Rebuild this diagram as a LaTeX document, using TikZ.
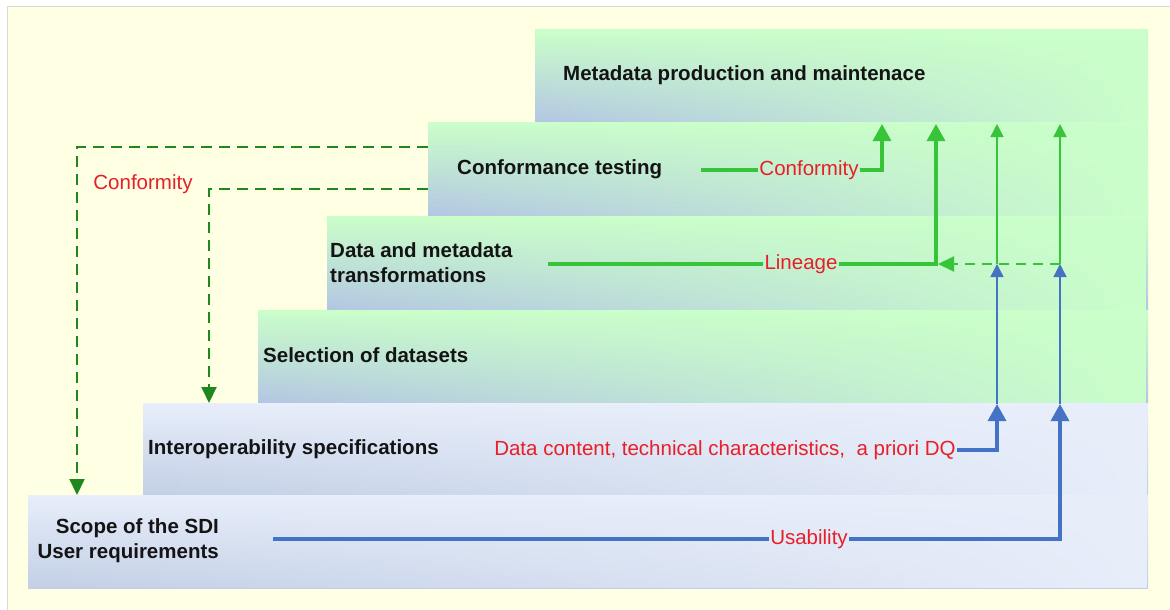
\documentclass[tikz,border=0pt]{standalone}
\usepackage{fontspec}
\setmainfont{Liberation Sans}
\usetikzlibrary{arrows.meta,fadings}
\definecolor{bgY}{RGB}{255,255,228}
\definecolor{gTop}{RGB}{202,255,202}
\definecolor{gBot}{RGB}{180,198,228}
\definecolor{bTop}{RGB}{232,238,250}
\definecolor{bBot}{RGB}{194,207,230}
\definecolor{lineG}{RGB}{56,196,56}
\definecolor{dashG}{RGB}{30,135,30}
\definecolor{lineB}{RGB}{68,114,196}
\definecolor{txtR}{RGB}{232,30,40}
\newcommand\mystepbox[6]{%
  \shade[top color=#5, bottom color=#6] (#1,#2) rectangle (#3,#4);
  \fill[#5, path fading=west, fit fading=true] (#1,#2) rectangle (#3,#4);}
\tikzset{
  tb/.style={font=\bfseries\fontsize{20.5}{25}\selectfont, text=black!92, inner sep=0pt, anchor=west},
  lbl/.style={font=\fontsize{20.5}{25}\selectfont, text=txtR, inner sep=1pt},
  gthick/.style={draw=lineG, line width=3.2pt},
  gthin/.style={draw=lineG, line width=1.4pt},
  bthick/.style={draw=lineB, line width=3.2pt},
  bthin/.style={draw=lineB, line width=1.4pt},
  gdash/.style={draw=lineG, line width=2pt, dash pattern=on 10pt off 7pt},
  ddash/.style={draw=dashG, line width=2pt, dash pattern=on 11pt off 7pt},
  bigtip/.style={-{Triangle[width=18pt,length=17pt]}},
  smalltip/.style={-{Triangle[width=13pt,length=13pt]}},
  dtip/.style={-{Triangle[width=15pt,length=16pt]}}
}
\begin{document}
\begin{tikzpicture}[x=1pt,y=-1pt]
\useasboundingbox (0,0) rectangle (1170,610);
\fill[white] (0,0) rectangle (1170,610);
\filldraw[fill=bgY, draw=black!15, line width=0.8pt] (7,6) rectangle (1175,615);

% steps
\mystepbox{535}{30}{1148}{122}{gTop}{gBot}
\mystepbox{428}{122}{1148}{216}{gTop}{gBot}
\mystepbox{327}{216}{1148}{310}{gTop}{gBot}
\mystepbox{258}{310}{1148}{403}{gTop}{gBot}
\mystepbox{143}{403}{1148}{495}{bTop}{bBot}
\mystepbox{28}{495}{1148}{588}{bTop}{bBot}

% step texts
\node[tb] (t1) at (563,75) {Metadata production and maintenace};
\node[tb] (t2) at (457,169) {Conformance testing};
\node[tb, align=left] (t3) at (330,263) {Data and metadata\\transformations};
\node[tb] (t4) at (263,355) {Selection of datasets};
\node[tb] (t5) at (148,449) {Interoperability specifications};
\node[tb, align=right, anchor=east] (t6) at (219,541) {Scope of the SDI\\User requirements};

% coordinates
\coordinate (ct0) at (701,170);
\coordinate (up1) at (882,124);
\coordinate (ln0) at (548,263);
\coordinate (up2) at (936,124);
\coordinate (jL) at (938,263);
\coordinate (jA) at (997,263);
\coordinate (jB) at (1060,263);
\coordinate (upA) at (997,124);
\coordinate (upB) at (1060,124);
\coordinate (bA) at (997,404);
\coordinate (bB) at (1060,404);
\coordinate (us0) at (273,539);
\coordinate (d1s) at (428,147);
\coordinate (d1e) at (77,495);
\coordinate (d2s) at (428,189);
\coordinate (d2e) at (209,403);

% labels
\node[lbl] (lc1) at (809,170) {Conformity};
\node[lbl] (ll) at (801,264) {Lineage};
\node[lbl] (ldc) at (725,450) {Data content, technical characteristics,\ \ a priori DQ};
\node[lbl] (lu) at (809,539) {Usability};
\node[lbl] (lc2) at (143,184) {Conformity};

% green connectors
\draw[gthick] (ct0 |- lc1.west) -- (lc1.west);
\draw[gthick, bigtip] (lc1.east) -| (up1);
\draw[gthick] (ln0 |- ll.west) -- (ll.west);
\draw[gthick, bigtip] (ll.east) -| (up2);
\draw[gdash, dtip] (jB |- ll.east) -- (jL |- ll.east);
\draw[gthin, smalltip] (jA |- ll.east) -- (upA);
\draw[gthin, smalltip] (jB |- ll.east) -- (upB);

% blue connectors
\draw[bthin, smalltip] (bA) -- (jA |- ll.east);
\draw[bthin, smalltip] (bB) -- (jB |- ll.east);
\draw[bthick, bigtip] (ldc.east) -| (bA);
\draw[bthick] (us0 |- lu.west) -- (lu.west);
\draw[bthick, bigtip] (lu.east) -| (bB);

% dashed conformity feedback
\draw[ddash, dtip] (d1s) -| (d1e);
\draw[ddash, dtip] (d2s) -| (d2e);
\end{tikzpicture}
\end{document}
